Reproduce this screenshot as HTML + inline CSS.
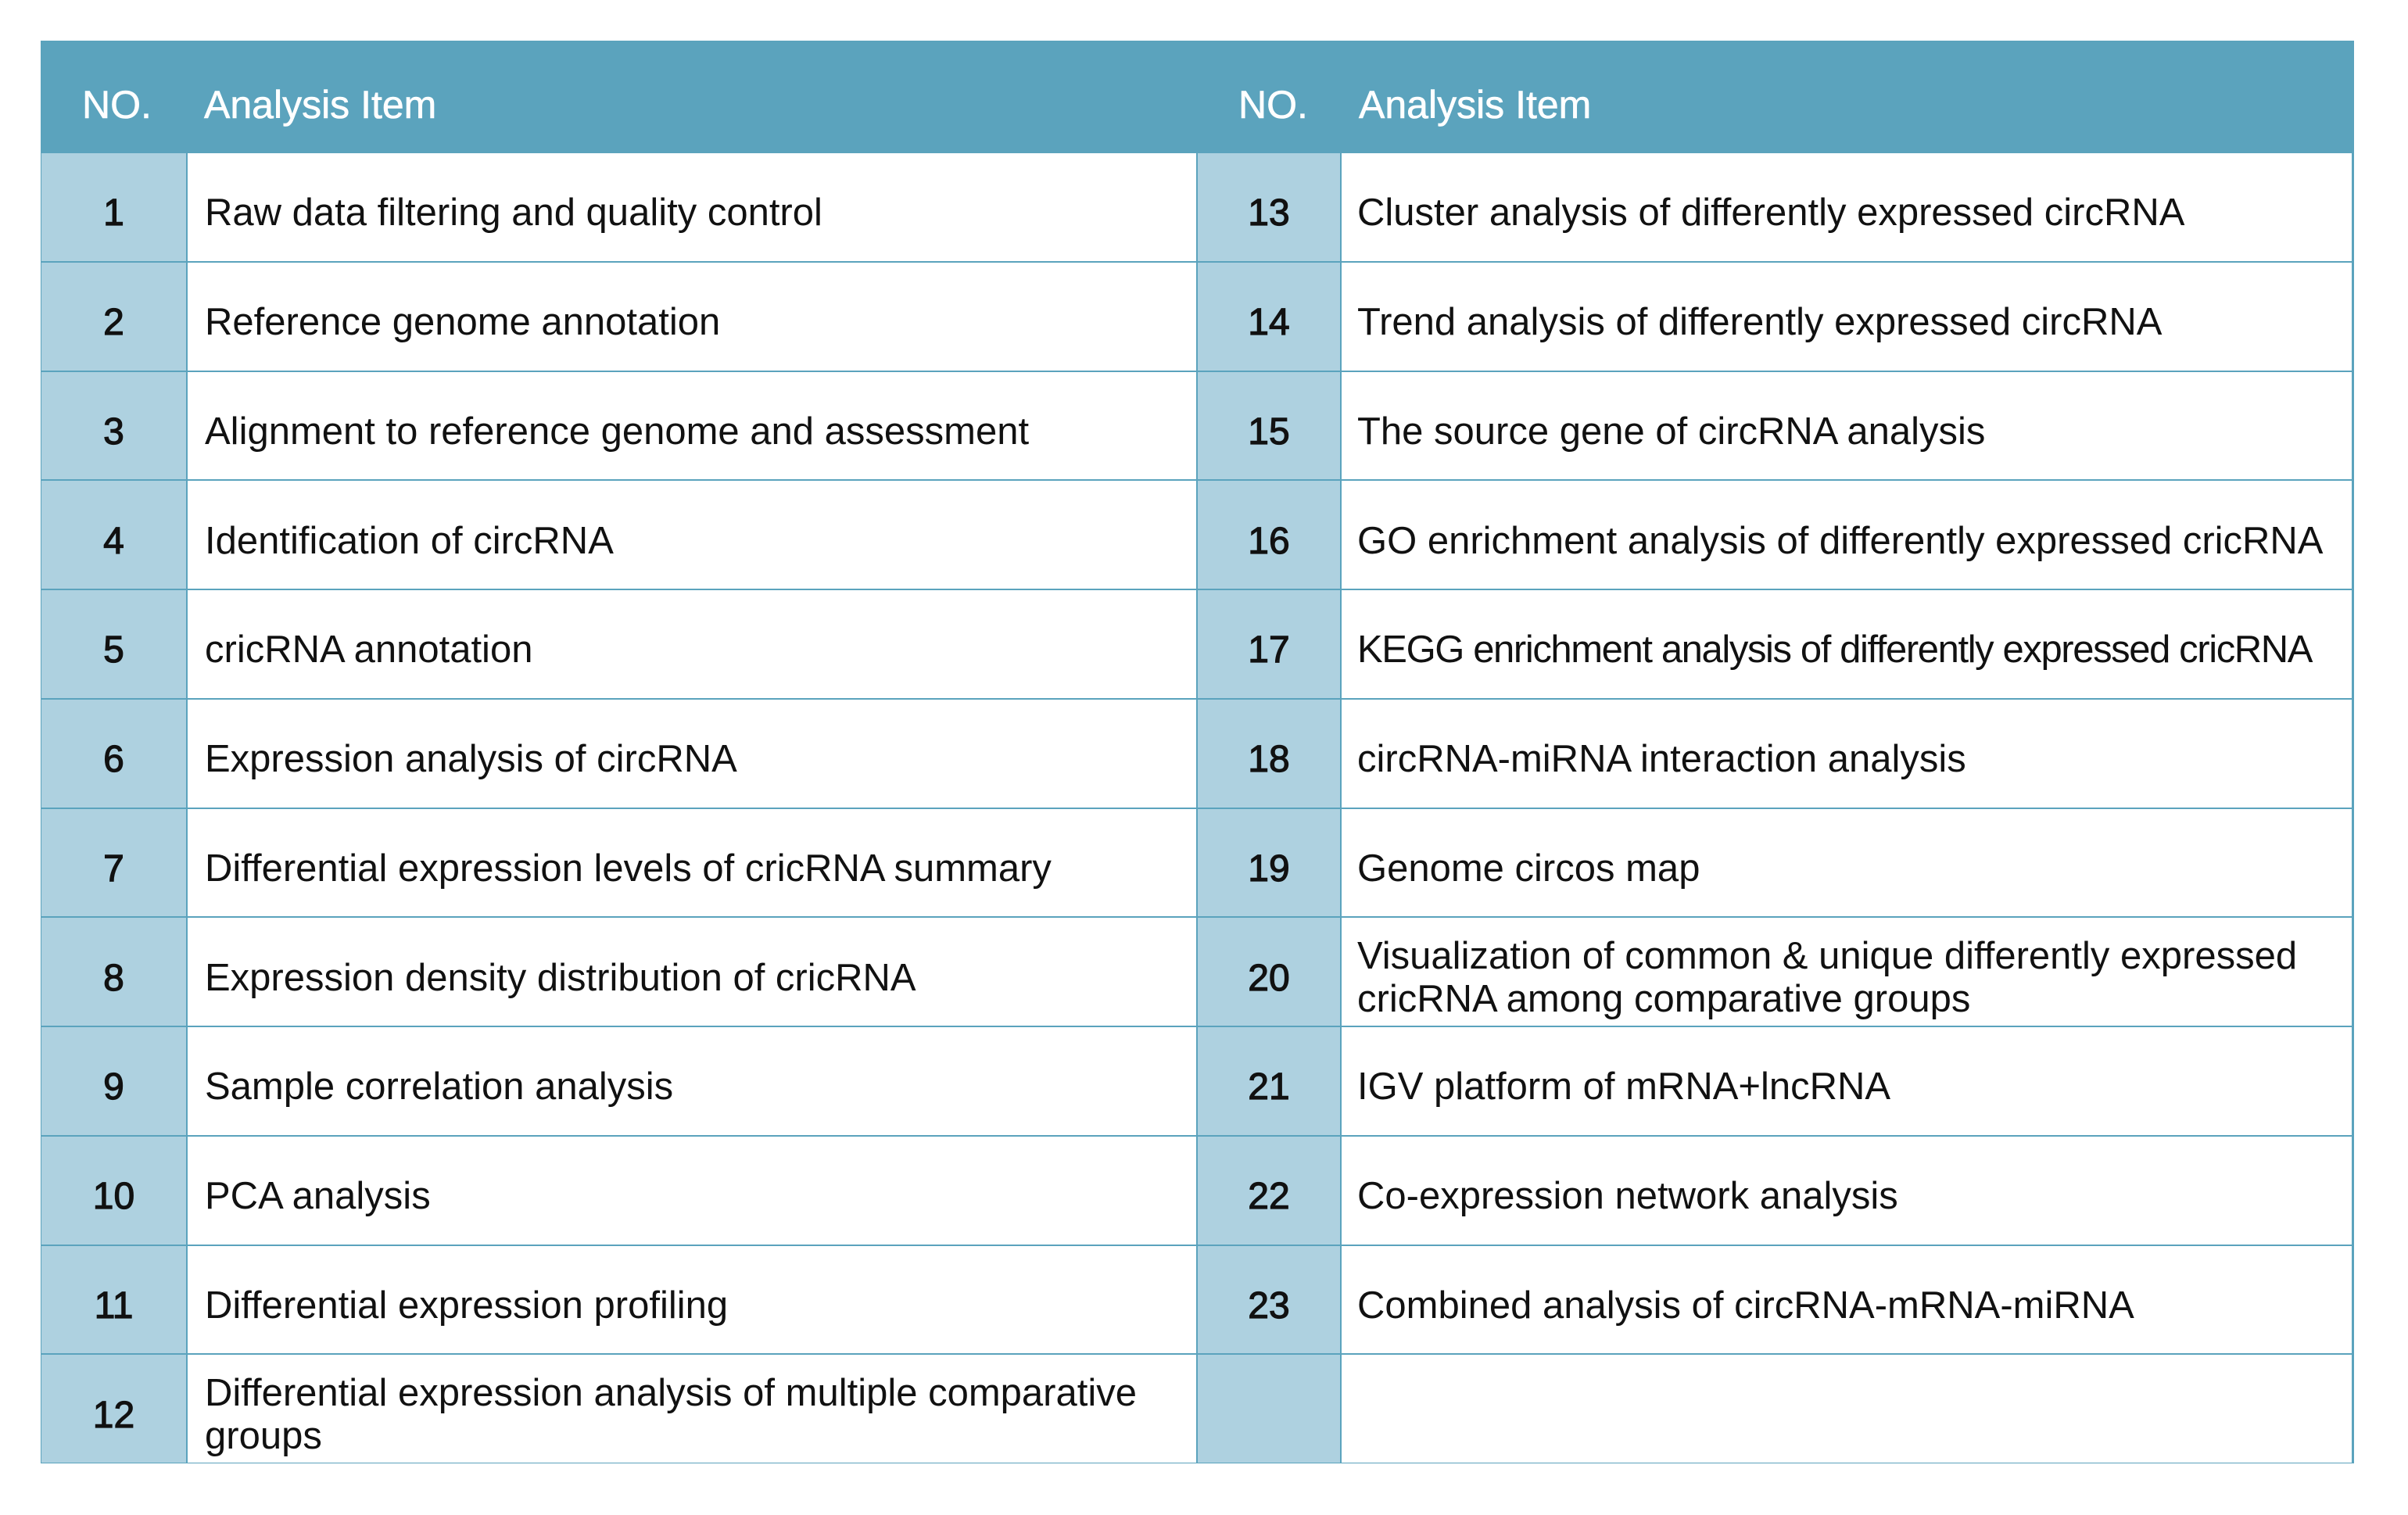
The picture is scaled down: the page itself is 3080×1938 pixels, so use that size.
<!DOCTYPE html>
<html><head><meta charset="utf-8"><style>
html,body{margin:0;padding:0;background:#fff;width:3080px;height:1938px;overflow:hidden;font-family:"Liberation Sans",sans-serif;}
.c{position:absolute;box-sizing:border-box;display:flex;align-items:center;white-space:nowrap;}
.h{background:#5ba3bd;color:#fff;font-size:50px;-webkit-text-stroke:0.6px #fff;}
.n{background:#aed1e0;color:#111;font-size:48px;-webkit-text-stroke:1.2px #111;justify-content:center;border:1.5px solid #5ba3bd;}
.t{background:#fff;color:#111;font-size:49px;border:1.5px solid #5ba3bd;padding-left:22px;line-height:55px;padding-top:16px;}
</style></head><body>
<div class="c h" style="left:52px;top:52px;width:2959px;height:143px;"></div>
<div class="c h" style="left:105px;top:52px;height:164px;">NO.</div>
<div class="c h" style="left:261px;top:52px;height:164px;">Analysis Item</div>
<div class="c h" style="left:1584px;top:52px;height:164px;">NO.</div>
<div class="c h" style="left:1738px;top:52px;height:164px;">Analysis Item</div>
<div id="rows"></div>
<div style="position:absolute;left:3008px;top:52px;width:3px;height:1820px;background:#5ba3bd;"></div>
<script>
var L=["Raw data filtering and quality control","Reference genome annotation","Alignment to reference genome and assessment","Identification of circRNA","cricRNA annotation","Expression analysis of circRNA","Differential expression levels of cricRNA summary","Expression density distribution of cricRNA","Sample correlation analysis","PCA analysis","Differential expression profiling","Differential expression analysis of multiple comparative<br>groups"];
var R=["Cluster analysis of differently expressed circRNA","Trend analysis of differently expressed circRNA","The source gene of circRNA analysis","GO enrichment analysis of differently expressed cricRNA","<span style='letter-spacing:-1.4px'>KEGG enrichment analysis of differently expressed cricRNA</span>","circRNA-miRNA interaction analysis","Genome circos map","Visualization of common &amp; unique differently expressed<br>cricRNA among comparative groups","IGV platform of mRNA+lncRNA","Co-expression network analysis","Combined analysis of circRNA-mRNA-miRNA",""];
var h="";
for(var i=0;i<12;i++){
 var y=195+i*139.75, hh=139.75;
 h+='<div class="c n" style="left:52px;top:'+y+'px;width:187px;height:'+hh+'px;padding-top:16px">'+(i+1)+'</div>';
 h+='<div class="c t" style="left:239px;top:'+y+'px;width:1292px;height:'+hh+'px;">'+L[i]+'</div>';
 h+='<div class="c n" style="left:1531px;top:'+y+'px;width:184px;height:'+hh+'px;padding-top:16px">'+(i<11?i+13:'')+'</div>';
 h+='<div class="c t" style="left:1715px;top:'+y+'px;width:1296px;height:'+hh+'px;padding-left:20px;">'+R[i]+'</div>';
}
document.getElementById('rows').innerHTML=h;
</script>
</body></html>
